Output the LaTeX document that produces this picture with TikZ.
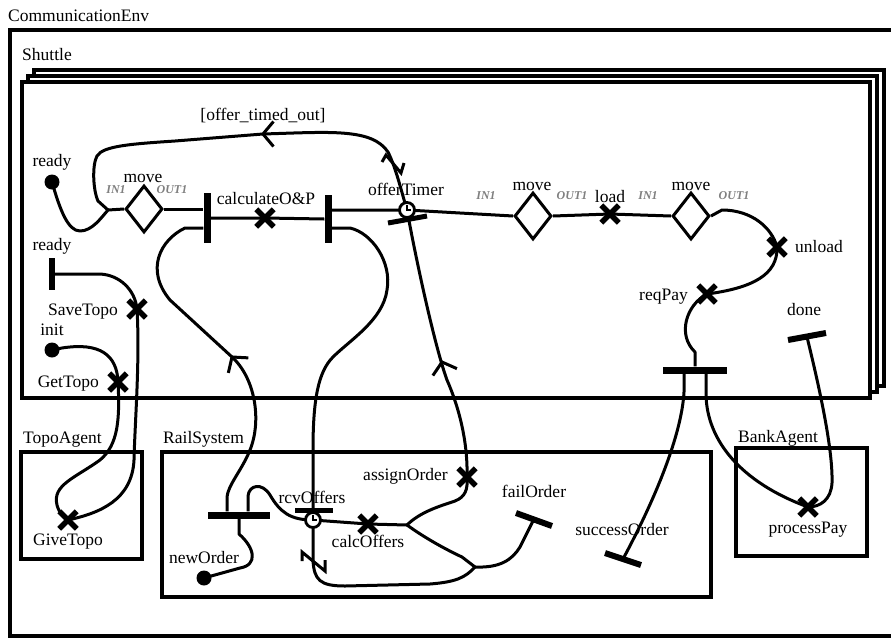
\documentclass[tikz,border=0pt]{standalone}
\usepackage{fontspec}
\setmainfont{Liberation Serif}
\usetikzlibrary{shapes.geometric,shapes.misc}
\pgfdeclarelayer{back}
\pgfdeclarelayer{bg}
\pgfsetlayers{back,bg,main}
\tikzset{
  shframe/.style={draw, line width=3.5pt, fill=white},
  boxline/.style={draw, line width=3.5pt},
  conn/.style={draw, line width=3pt, line join=round},
  lbl/.style={font=\fontsize{17.5}{20}\selectfont, inner sep=0pt, anchor=base},
  portlbl/.style={font=\fontsize{12}{14}\selectfont\bfseries\itshape, text=black!50, inner sep=0pt, anchor=base},
  fdot/.style={circle, fill=black, minimum size=15pt, inner sep=0pt},
  xmark/.style={cross out, draw=black, line width=5.5pt, minimum size=12pt, inner sep=0pt},
  dmd/.style={diamond, draw, line width=3pt, fill=white, minimum width=37pt, minimum height=47pt, inner sep=0pt},
  vbar/.style={rectangle, fill=black, minimum width=7pt, minimum height=50pt, inner sep=0pt},
  hbar/.style={rectangle, fill=black, minimum width=62pt, minimum height=7pt, inner sep=0pt},
  timer/.style={circle, draw, line width=2.8pt, fill=white, minimum size=15pt, inner sep=0pt},
  tbar/.style={line width=6pt},
  nmark/.style={line width=3pt, line join=miter},
  chev/.pic={\draw[line width=3pt, line join=miter] (-10.5,12.5) -- (0,0) -- (-10.5,-12.5);},
}
\begin{document}
\begin{tikzpicture}[x=1pt, y=-1pt]
\useasboundingbox (0,0) rectangle (891,638);

% ---------- nodes ----------
\node[fdot] (readyA) at (52,182) {};
\coordinate (j1) at (108,210);
\node[dmd] (mv1) at (144,209) {};
\node[vbar] (bar1) at (207,218) {};
\node[vbar, minimum height=48pt] (bar2) at (328,219) {};
\node[xmark] (cop) at (265,218) {};
\draw[line width=5pt] (388,223) -- (427,216);
\node[timer] (ot) at (407,210) {};
\draw[line width=1.8pt] ([shift={(0,-5)}]ot.center) -- (ot.center) -- ++(4,0);
\node[dmd] (mv2) at (533,216) {};
\node[xmark] (load) at (610,214) {};
\node[dmd] (mv3) at (691,216) {};
\node[xmark] (unload) at (777,247) {};
\node[xmark] (reqpay) at (707,294) {};
\node[hbar, minimum width=64pt] (bar3) at (695,370) {};
\coordinate (doneT) at (807,337);
\draw[tbar] (788,340) -- (826,333);
\coordinate (readyT) at (52,274);
\draw[tbar] (52,258) -- (52,290);
\node[fdot] (init) at (52,350) {};
\node[xmark] (save) at (137,309) {};
\node[xmark] (get) at (118,382) {};
\node[xmark] (give) at (68,520) {};
\node[hbar] (bar4) at (239,515) {};
\node[fdot] (neworder) at (204,578) {};
\draw[line width=5pt] (295,510) -- (333,510);
\node[timer] (rcv) at (313,520) {};
\draw[line width=1.8pt] ([shift={(0,-5)}]rcv.center) -- (rcv.center) -- ++(4,0);
\node[xmark] (calc) at (368,524) {};
\coordinate (split) at (407,525);
\node[xmark] (assign) at (467,477) {};
\coordinate (join) at (475,567);
\coordinate (failT) at (534,519);
\draw[tbar] (516,513) -- (552,526);
\coordinate (succT) at (623,559);
\draw[tbar] (605,553) -- (641,565);
\node[xmark] (pay) at (808,507) {};

% N marks and chevrons
\draw[nmark] (382,162) -- (386,155) -- (401,173) -- (404,163);
\draw[nmark] (302,561) -- (302,552) -- (325,571) -- (325,560);
\pic[rotate=180] at (263,134) {chev};
\pic[rotate=127] at (232,357) {chev};
\pic[rotate=106] at (442,362) {chev};

% ---------- connectors ----------
\begin{pgfonlayer}{bg}
\draw[conn] (readyA.center) .. controls (60,210) and (68,231) .. (80,231) .. controls (92,231) and (101,218) .. (j1);
\draw[conn] (j1) -- (mv1.west);
\draw[conn] (j1) -- (98,201) .. controls (93,190) and (92,165) .. (97,156) .. controls (103,146) and (130,144) .. (175,141) -- (263,134) .. controls (330,132) and (372,128) .. (388,152) .. controls (396,168) and (401,190) .. (ot.center);
\draw[conn] (mv1.east) -- (bar1.west |- mv1.east);
\draw[conn] (bar1.east) -- (cop.center) -- (bar2.west);
\draw[conn] (bar2.east |- ot.center) -- (ot.center) -- (mv2.west);
\draw[conn] (mv2.east) -- (load.center) -- (mv3.west);
\draw[conn] (mv3.east) -- (722,210) .. controls (752,210) and (772,228) .. (unload.center);
\draw[conn] (unload.center) .. controls (778,275) and (752,288) .. (reqpay.center);
\draw[conn] (reqpay.center) .. controls (686,305) and (677,335) .. (695,352) -- (bar3.north);
\draw[conn] ([xshift=-11pt]bar3.south) -- (684,392) .. controls (682,430) and (660,490) .. (succT);
\draw[conn] ([xshift=11pt]bar3.south) -- (706,395) .. controls (707,440) and (740,482) .. (pay.center);
\draw[conn] (doneT) .. controls (820,390) and (833,450) .. (832,483) .. controls (831,500) and (820,507) .. (pay.center);
\draw[conn] (readyT) -- (100,274) .. controls (120,275) and (135,290) .. (save.center);
\draw[conn] (save.center) .. controls (140,360) and (135,420) .. (134,460) .. controls (132,500) and (100,513) .. (give.center);
\draw[conn] (init.center) -- (62,348) .. controls (100,342) and (117,355) .. (get.center);
\draw[conn] (get.center) .. controls (120,420) and (118,445) .. (100,460) .. controls (75,478) and (52,485) .. (57,505) .. controls (59,513) and (64,517) .. (give.center);
\draw[conn] ([yshift=-10pt]bar1.west) -- (185,228) .. controls (160,240) and (145,270) .. (170,300) -- (232,357) .. controls (255,378) and (262,420) .. (250,450) .. controls (242,470) and (228,485) .. (227,497) -- ([xshift=-12pt]bar4.north);
\draw[conn] ([xshift=9pt]bar4.north) -- (248,496) .. controls (249,485) and (262,482) .. (270,495) .. controls (280,512) and (290,520) .. (rcv.center);
\draw[conn] (bar4.south) -- (239,534) .. controls (255,548) and (258,565) .. (240,568) -- (neworder.center);
\draw[conn] ([yshift=-9pt]bar2.east) -- (350,228) .. controls (372,233) and (392,262) .. (387,290) .. controls (383,320) and (350,340) .. (333,357) .. controls (318,372) and (313,400) .. (313,450) -- (rcv.center) -- (313,560) .. controls (314,580) and (320,586) .. (345,586) -- (430,584) .. controls (455,582) and (465,578) .. (join);
\draw[conn] (rcv.center) -- (calc.center) -- (split);
\draw[conn] (split) .. controls (420,512) and (440,506) .. (455,501) .. controls (465,497) and (468,490) .. (assign.center);
\draw[conn] (split) .. controls (425,538) and (445,549) .. (462,557) -- (join);
\draw[conn] (join) .. controls (500,568) and (512,560) .. (520,547) -- (failT);
\draw[conn] (assign.center) .. controls (468,440) and (458,405) .. (447,380) .. controls (436,350) and (418,270) .. (ot.center);
\end{pgfonlayer}

% ---------- frames and labels ----------
\begin{pgfonlayer}{back}
\draw[boxline] (891,30) -- (10,30) -- (10,636) -- (891,636);
\path[shframe] (34,70) rectangle (884,386);
\path[shframe] (28,76) rectangle (877,392);
\path[shframe] (22,82) rectangle (870,398);
\path[boxline] (21,452) rectangle (142,559);
\path[boxline] (162,452) rectangle (711,597);
\path[boxline] (736,448) rectangle (867,556);

\node[lbl, anchor=base west] (tEnv) at (8,21) {CommunicationEnv};
\node[lbl, anchor=base west] (tShuttle) at (22,60) {Shuttle};
\node[lbl, anchor=base west] (tTopo) at (23,443) {TopoAgent};
\node[lbl, anchor=base west] (tRail) at (163,443) {RailSystem};
\node[lbl, anchor=base west] (tBank) at (738,442) {BankAgent};
\node[lbl] (tReadyA) at (52,166) {ready};
\node[lbl] (tMove1) at (143,182) {move};
\node[portlbl] (tIn1) at (116,193) {IN1};
\node[portlbl] (tOut1) at (172,193) {OUT1};
\node[lbl] (tCalc) at (266,204) {calculateO\&P};
\node[lbl] (tTimer) at (406,195) {offerTimer};
\node[lbl] (tTimed) at (263,120) {[offer\_timed\_out]};
\node[portlbl] (tIn2) at (486,199) {IN1};
\node[lbl] (tMove2) at (532,190) {move};
\node[portlbl] (tOut2) at (572,199) {OUT1};
\node[lbl] (tLoad) at (610,202) {load};
\node[portlbl] (tIn3) at (648,199) {IN1};
\node[lbl] (tMove3) at (691,190) {move};
\node[portlbl] (tOut3) at (734,199) {OUT1};
\node[lbl, anchor=base west] (tUnload) at (795,252) {unload};
\node[lbl, anchor=base east] (tReqPay) at (688,300) {reqPay};
\node[lbl] (tDone) at (804,315) {done};
\node[lbl] (tReadyB) at (52,250) {ready};
\node[lbl, anchor=base east] (tSave) at (118,315) {SaveTopo};
\node[lbl] (tInit) at (52,335) {init};
\node[lbl, anchor=base east] (tGet) at (99,387) {GetTopo};
\node[lbl] (tGive) at (68,545) {GiveTopo};
\node[lbl] (tNew) at (204,563) {newOrder};
\node[lbl] (tRcv) at (312,503) {rcvOffers};
\node[lbl] (tCalcOff) at (368,547) {calcOffers};
\node[lbl, anchor=base east] (tAssign) at (448,480) {assignOrder};
\node[lbl] (tFail) at (534,497) {failOrder};
\node[lbl] (tSucc) at (622,535) {successOrder};
\node[lbl] (tPay) at (808,533) {processPay};
\end{pgfonlayer}
\end{tikzpicture}
\end{document}
